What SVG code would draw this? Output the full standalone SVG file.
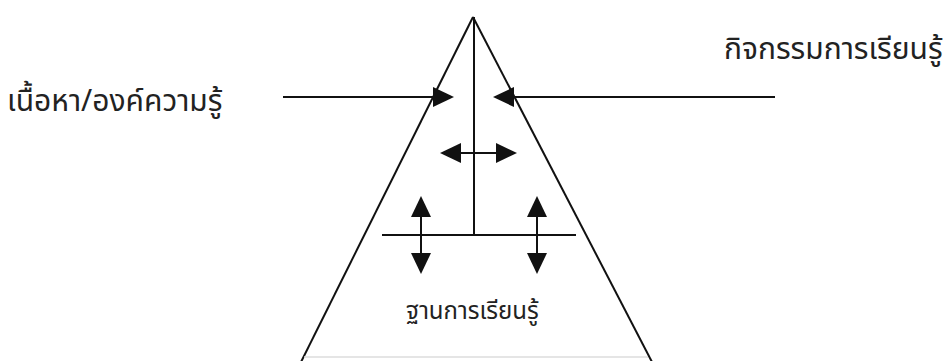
<svg xmlns="http://www.w3.org/2000/svg" width="949" height="361" viewBox="0 0 949 361">
<defs>
<style>
.ln{stroke:#111;stroke-width:2;fill:none}
.hd{fill:#111}
.t{font-family:"Noto Sans Thai","Noto Sans","DejaVu Sans",sans-serif;fill:#222}
</style>
</defs>
<rect width="949" height="361" fill="#fff"/>
<g id="pyramid">
<line class="ln" x1="473" y1="17" x2="301" y2="362"/>
<line class="ln" x1="473" y1="17" x2="652" y2="362"/>
<line x1="304" y1="357" x2="648" y2="357" stroke="#ddd" stroke-width="1.5"/>
</g>
<g id="connectors">
<line class="ln" x1="474" y1="17" x2="474" y2="235"/>
<line class="ln" x1="382" y1="235" x2="576" y2="235"/>
<line class="ln" x1="283" y1="97" x2="440" y2="97"/>
<polygon class="hd" points="454,97 433,87 433,107"/>
<line class="ln" x1="506" y1="97" x2="775" y2="97"/>
<polygon class="hd" points="493,97 514,87 514,107"/>
<line class="ln" x1="455" y1="153" x2="502" y2="153"/>
<polygon class="hd" points="440,153 461,143 461,163"/>
<polygon class="hd" points="517,153 496,143 496,163"/>
<line class="ln" x1="421" y1="210" x2="421" y2="260"/>
<polygon class="hd" points="421,196 411,217 431,217"/>
<polygon class="hd" points="421,274 411,253 431,253"/>
<line class="ln" x1="537" y1="210" x2="537" y2="260"/>
<polygon class="hd" points="537,196 527,217 547,217"/>
<polygon class="hd" points="537,274 527,253 547,253"/>
</g>
<g id="label-left"><text class="t" x="7" y="111" font-size="30">เนื้อหา/องค์ความรู้</text></g>
<g id="label-right"><text class="t" x="724" y="59" font-size="30">กิจกรรมการเรียนรู้</text></g>
<g id="label-base"><text class="t" x="406" y="319" font-size="24">ฐานการเรียนรู้</text></g>
</svg>
